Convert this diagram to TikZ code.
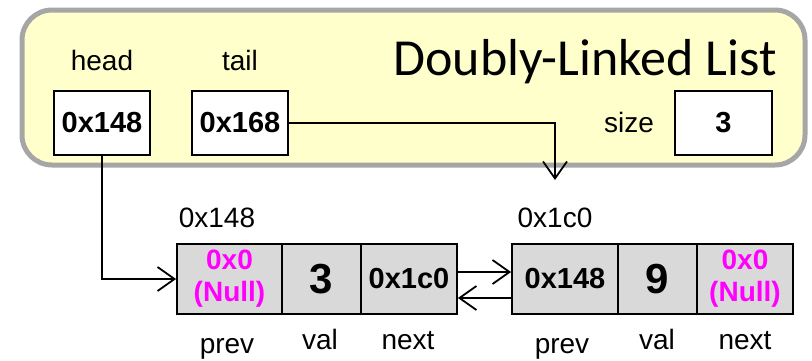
\documentclass[tikz,border=0pt]{standalone}
\usepackage{fontspec}
\setmainfont{Liberation Sans}
\newfontfamily\titlefont{Carlito}
\usetikzlibrary{arrows.meta}
\definecolor{panelfill}{HTML}{FFFFCC}
\definecolor{panelline}{HTML}{A6A6A6}
\definecolor{cellfill}{HTML}{D9D9D9}
\definecolor{nullcol}{HTML}{FF00FF}
\begin{document}
\begin{tikzpicture}[x=1pt,y=-1pt,
  lbl/.style={inner sep=0pt,anchor=base,font=\fontsize{28}{32}\selectfont},
  varbox/.style={draw=black,line width=1.8pt,fill=white,minimum width=96pt,minimum height=64pt,inner sep=0pt,font=\fontsize{29}{32}\selectfont\bfseries},
  cell/.style={draw=black,line width=1.8pt,fill=cellfill,minimum height=70pt,inner sep=0pt,font=\fontsize{29}{32}\selectfont\bfseries},
  bignum/.style={font=\fontsize{42}{44}\selectfont\bfseries},
  nullval/.style={text=nullcol,align=center,font=\fontsize{28}{32}\selectfont\bfseries},
  link/.style={line width=1.8pt,-{Straight Barb[length=17pt,width=24pt,line width=1.8pt]}}
]
\useasboundingbox (0,0) rectangle (812,360);
% panel
\draw[line width=5pt,draw=panelline,fill=panelfill,rounded corners=30pt] (22,10) rectangle (805,165);
\node[lbl] (headlbl) at (102,70) {head};
\node[lbl] (taillbl) at (240,70) {tail};
\node[inner sep=0pt,anchor=base east,font=\titlefont\fontsize{52}{56}\selectfont] (title) at (777,75) {Doubly-Linked List};
\node[lbl] (sizelbl) at (629,132) {size};
\node[varbox] (headbox) at (102,123) {0x148};
\node[varbox] (tailbox) at (240,123) {0x168};
\node[varbox,minimum width=97pt] (sizebox) at (723.5,123) {3};
% node 1
\node[lbl] (addr1) at (217,227) {0x148};
\node[cell,minimum width=105pt] (n1prev) at (229.5,279) {};
\node[nullval] at (n1prev) {0x0\\(Null)};
\node[cell,minimum width=79pt,bignum] (n1val) at (321.5,279) {3};
\node[cell,minimum width=96pt] (n1next) at (409,279) {0x1c0};
\node[lbl] (p1) at (227,353) {prev};
\node[lbl] (v1) at (320,349) {val};
\node[lbl] (x1) at (408,349) {next};
% node 2
\node[lbl] (addr2) at (555,227) {0x1c0};
\node[cell,minimum width=106pt] (n2prev) at (565,279) {0x148};
\node[cell,minimum width=79pt,bignum] (n2val) at (657.5,279) {9};
\node[cell,minimum width=96pt] (n2next) at (745,279) {};
\node[nullval] at (n2next) {0x0\\(Null)};
\node[lbl] (p2) at (562,353) {prev};
\node[lbl] (v2) at (657,349) {val};
\node[lbl] (x2) at (745,349) {next};
% connectors
\coordinate (tailend) at (555,180);
\draw[link] (headbox.south) |- (n1prev.west);
\draw[link] (tailbox.east) -| (tailend);
\draw[link] ([yshift=7pt]n1next.east) -- ([yshift=7pt]n2prev.west);
\draw[link] ([yshift=-19pt]n2prev.west) -- ([yshift=-19pt]n1next.east);
\end{tikzpicture}
\end{document}
